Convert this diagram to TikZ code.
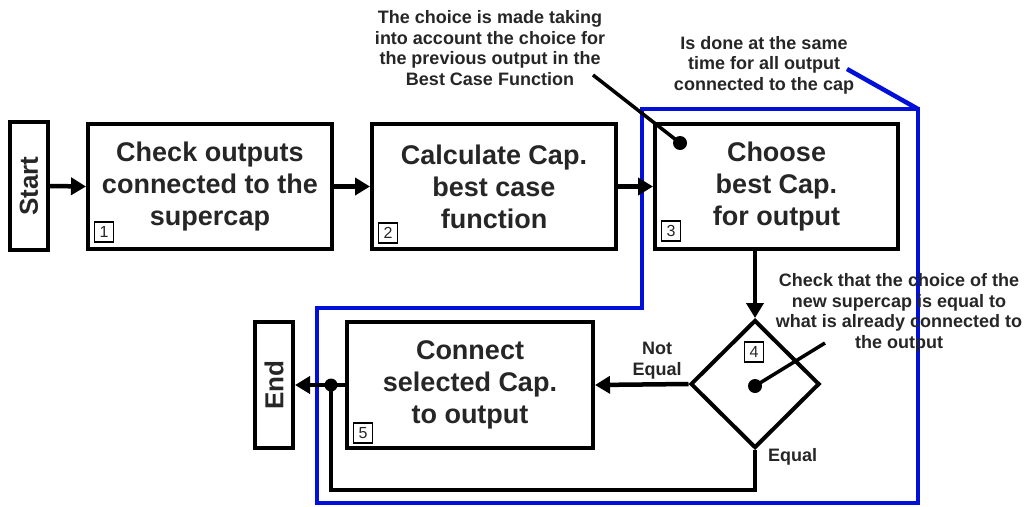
\documentclass[tikz,border=0pt]{standalone}
\usepackage{fontspec}
\setmainfont{Liberation Sans}
\usetikzlibrary{arrows.meta,shapes.geometric}
\definecolor{txt}{HTML}{262626}
\definecolor{capblue}{HTML}{0010D8}
\begin{document}
\begin{tikzpicture}[x=1pt,y=-1pt,
  box/.style={draw, line width=4pt, fill=white, align=center, text=txt,
    font=\bfseries\fontsize{27}{32}\selectfont, inner sep=0pt},
  term/.style={draw, line width=4pt, fill=white, text=txt,
    font=\bfseries\fontsize{26}{26}\selectfont, inner sep=0pt, rotate=90},
  numbox/.style={draw, line width=1.4pt, minimum width=19pt, minimum height=20pt,
    inner sep=0pt, text=txt, font=\fontsize{16}{16}\selectfont},
  dia/.style={diamond, draw, line width=4pt, fill=white, minimum width=129pt,
    minimum height=128pt, inner sep=0pt},
  note/.style={align=center, text=txt, font=\bfseries\fontsize{18}{20.5}\selectfont, inner sep=0pt},
  lab/.style={align=center, text=txt, font=\bfseries\fontsize{18}{21}\selectfont, inner sep=0pt},
  conn/.style={line width=4.5pt},
  arr/.style={line width=4.5pt, -{Triangle[length=15pt,width=17pt]}},
  pointer/.style={line width=3.5pt},
  dot/.style={circle, fill=black, inner sep=0pt, minimum size=13pt},
  blueline/.style={draw=capblue, line width=4.5pt, line join=miter}
]
\useasboundingbox (0,0) rectangle (1024,506);

% grouping outline (blue)
\draw[blueline] (642,109) -- (918,109) -- (918,503) -- (317,503) -- (317,308) -- (642,308) -- cycle;

% nodes
\node[term, minimum width=128pt, minimum height=38pt] (start) at (29,186) {Start};
\node[box, minimum width=244pt, minimum height=125pt] (b1) at (210,186.5) {Check outputs\\connected to the\\supercap};
\node[box, minimum width=244pt, minimum height=125pt] (b2) at (494,186.5) {Calculate Cap.\\best case\\function};
\node[box, minimum width=243pt, minimum height=125pt] (b3) at (776.5,186.5) {Choose\\best Cap.\\for output};
\node[dia] (d) at (755,384) {};
\node[box, minimum width=246pt, minimum height=126pt] (b5) at (470,385) {Connect\\selected Cap.\\to output};
\node[term, minimum width=126pt, minimum height=38pt] (end) at (274,385) {End};

\node[numbox] (n1) at ([shift={(18,-19)}]b1.south west) {1};
\node[numbox] (n2) at ([shift={(18,-18)}]b2.south west) {2};
\node[numbox] (n3) at ([shift={(18,-20)}]b3.south west) {3};
\node[numbox] (n4) at (754,352) {4};
\node[numbox] (n5) at ([shift={(18,-17)}]b5.south west) {5};

% annotations
\node[note] (a1) at (490,48) {The choice is made taking\\into account the choice for\\the previous output in the\\Best Case Function};
\node[note] (a2) at (764,65) {Is done at the same\\time for all output\\connected to the cap};
\node[note] (a3) at (899,313) {Check that the choice of the\\new supercap is equal to\\what is already connected to\\the output};

% main flow
\draw[arr] (start.south) -- (b1.west);
\draw[arr] (b1.east) -- (b2.west);
\draw[arr] (b2.east) -- (b3.west);
\draw[arr] (d.north |- b3.south) -- (d.north);
\draw[arr] (d.west) -- (b5.east);
\node[lab] (ne) at (657,361) {Not\\Equal};
\node[dot] (jn) at (331,385) {};
\draw[arr] (b5.west) -- (end.south);
\coordinate (lc) at (755,490);
\draw[conn] (d.south) -- (lc) -| (jn.center);
\node[lab, anchor=west] (eq) at (768,457) {Equal};

% pointers
\node[dot, minimum size=14pt] (p3) at (680,143) {};
\coordinate (a1e) at (593,75);
\draw[pointer] (a1e) -- (p3.center);
\node[dot, minimum size=14pt] (p4) at (755,386) {};
\coordinate (a3e) at (825,343);
\draw[pointer] (a3e) -- (p4.center);
\coordinate (a2e) at (847,69);
\draw[draw=capblue, line width=4.5pt] (a2e) -- (918,109);
\end{tikzpicture}
\end{document}
